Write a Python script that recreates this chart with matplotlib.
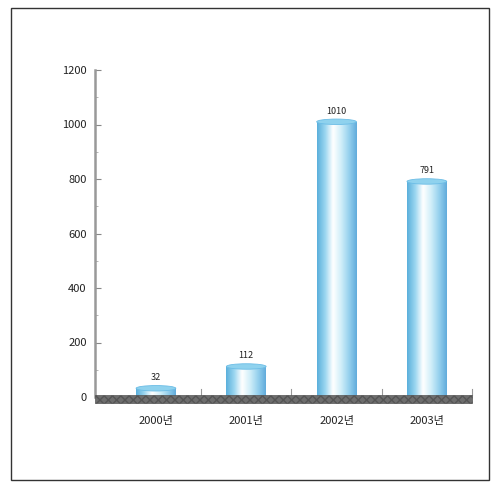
import numpy as np
import matplotlib
matplotlib.use("Agg")
import matplotlib.pyplot as plt
from matplotlib.patches import Rectangle, Ellipse
from matplotlib.colors import LinearSegmentedColormap

plt.rcParams['font.family'] = ['Noto Sans CJK KR', 'DejaVu Sans']

categories = ["2000년", "2001년", "2002년", "2003년"]
values = [32, 112, 1010, 791]
value_labels = ["32", "112", "1010", "791"]
yticks = [0, 200, 400, 600, 800, 1000, 1200]

W, H = 499, 484
fig = plt.figure(figsize=(W / 100, H / 100), dpi=100)
fig.patch.set_facecolor("white")
fig.add_artist(Rectangle((11 / W, 4 / H), 478 / W, 472 / H, transform=fig.transFigure,
                         fill=False, edgecolor="#333333", linewidth=1.0))

ax = fig.add_axes([95 / W, (H - 397) / H, (472 - 95) / W, (397 - 70) / H])
ax.set_xlim(-0.675, 3.5)
ax.set_ylim(0, 1200)

cmap = LinearSegmentedColormap.from_list(
    "cyl", ["#5cb0dc", "#9ad6f0", "#ffffff", "#d2eff9", "#98d2ee", "#62acdc"])
grad = np.linspace(0, 1, 64).reshape(1, -1)
bw = 0.44
x = np.arange(len(categories))
bars = ax.bar(x, values, width=bw, color="none", edgecolor="none", zorder=2)
for b, v, lab in zip(bars, values, value_labels):
    x0 = b.get_x()
    im = ax.imshow(grad, cmap=cmap, aspect="auto", extent=(x0, x0 + bw, 0, v),
                   zorder=2, interpolation="bilinear")
    im.set_clip_path(b)
    ax.add_patch(Ellipse((x0 + bw / 2, v), bw, 20, facecolor="#8fd2ee",
                         edgecolor="#6cbde6", linewidth=0.6, zorder=3))
    ax.text(x0 + bw / 2, v + 22, lab, ha="center", va="bottom", fontsize=6.5,
            color="#222222", zorder=4)

# category separator marks
for sx in [0.5, 1.5, 2.5, 3.5]:
    ax.plot([sx, sx], [8, 30], color="#999999", linewidth=0.8, zorder=4, clip_on=False)

# floor band
ax.add_patch(Rectangle((-0.675, -22), 4.175, 29, facecolor="#6e6e6e",
                       edgecolor="#555555", hatch="xxxx", linewidth=0.5,
                       clip_on=False, zorder=5))

for s in ["top", "right", "bottom"]:
    ax.spines[s].set_visible(False)
ax.spines["left"].set_color("#999999")
ax.spines["left"].set_linewidth(1.8)
ax.set_yticks(yticks)
ax.set_yticks(np.arange(0, 1201, 100), minor=True)
ax.tick_params(axis="y", direction="in", length=4, color="#888888", labelsize=8,
               labelcolor="#222222", pad=6)
ax.tick_params(axis="y", which="minor", direction="in", length=2, color="#aaaaaa")
ax.set_xticks(x)
ax.set_xticklabels(categories, fontsize=8, color="#222222")
ax.tick_params(axis="x", length=0, pad=14)

fig.savefig("out.png", dpi=100)
